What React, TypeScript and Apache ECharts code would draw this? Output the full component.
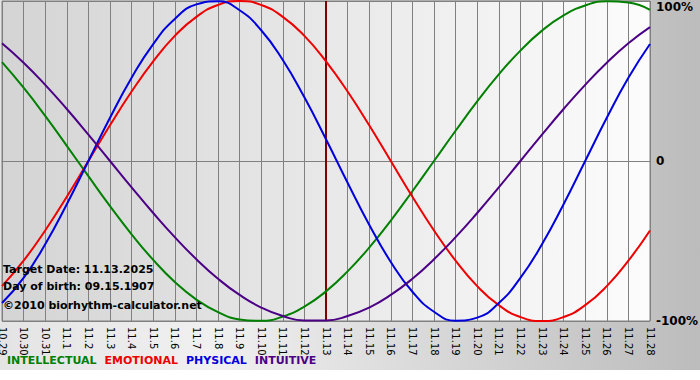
import React, { useEffect, useRef } from "react";
import * as echarts from "echarts";

const dates = [
  "10.29", "10.30", "10.31", "11.1", "11.2", "11.3", "11.4", "11.5", "11.6", "11.7",
  "11.8", "11.9", "11.10", "11.11", "11.12", "11.13", "11.14", "11.15", "11.16", "11.17",
  "11.18", "11.19", "11.20", "11.21", "11.22", "11.23", "11.24", "11.25", "11.26", "11.27", "11.28",
];

const intellectual = [61.8, 45.8, 28.2, 9.5, -9.5, -28.2, -45.8, -61.8, -75.6, -86.6, -94.5, -99.0, -99.9, -97.2, -91.0, -81.5, -69.0, -54.1, -37.2, -18.9, 0, 18.9, 37.2, 54.1, 69.0, 81.5, 91.0, 97.2, 99.9, 99.0, 94.5];
const emotional = [-78.2, -62.3, -43.4, -22.3, 0, 22.3, 43.4, 62.3, 78.2, 90.1, 97.5, 100, 97.5, 90.1, 78.2, 62.3, 43.4, 22.3, 0, -22.3, -43.4, -62.3, -78.2, -90.1, -97.5, -100, -97.5, -90.1, -78.2, -62.3, -43.4];
const physical = [-88.8, -73.1, -52.0, -27.0, 0, 27.0, 52.0, 73.1, 88.8, 97.9, 99.8, 94.2, 81.7, 63.1, 39.8, 13.6, -13.6, -39.8, -63.1, -81.7, -94.2, -99.8, -97.9, -88.8, -73.1, -52.0, -27.0, 0, 27.0, 52.0, 73.1];
const intuitive = [73.6, 61.4, 47.6, 32.5, 16.5, 0, -16.5, -32.5, -47.6, -61.4, -73.6, -83.7, -91.6, -96.9, -99.7, -99.7, -96.9, -91.6, -83.7, -73.6, -61.4, -47.6, -32.5, -16.5, 0, 16.5, 32.5, 47.6, 61.4, 73.6, 83.7];

const targetDate = "11.13";
const infoLines = ["Target Date: 11.13.2025", "Day of birth: 09.15.1907", "\u00a92010 biorhythm-calculator.net"];

const seriesDefs = [
  { name: "INTELLECTUAL", data: intellectual, color: "#008000" },
  { name: "EMOTIONAL", data: emotional, color: "#ee0000" },
  { name: "PHYSICAL", data: physical, color: "#0000dd" },
  { name: "INTUITIVE", data: intuitive, color: "#4b0085" },
];

const FONT = "DejaVu Sans, Verdana, sans-serif";

export default function App() {
  const ref = useRef<HTMLDivElement>(null);
  useEffect(() => {
    if (!ref.current) return;
    const chart = echarts.init(ref.current, null, { renderer: "svg" });
    const option: any = {
      animation: false,
      backgroundColor: "#ffffff",
      textStyle: { fontFamily: FONT },
      graphic: [
        {
          type: "rect",
          z: -10,
          silent: true,
          shape: { x: 0, y: 0, width: 700, height: 370 },
          style: {
            fill: new echarts.graphic.LinearGradient(0, 0, 1, 0, [
              { offset: 0, color: "#e4e4e4" },
              { offset: 0.3, color: "#f0f0f0" },
              { offset: 1, color: "#bcbcbc" },
            ]),
          },
        },
        ...infoLines.map((t, i) => ({
          type: "text",
          left: 3,
          top: 264 + i * 17 + (i === 2 ? 2 : 0),
          z: 100,
          style: { text: t, font: `bold 11px ${FONT}`, fill: "#000" },
        })),
      ],
      legend: {
        left: 2,
        top: 355,
        icon: "none",
        itemWidth: 0,
        itemHeight: 0,
        itemGap: 3,
        padding: 0,
        data: seriesDefs.map((s) => ({
          name: s.name,
          textStyle: { color: s.color, fontWeight: "bold", fontSize: 11, fontFamily: FONT },
        })),
        selectedMode: false,
      },
      grid: {
        left: 2,
        right: 50,
        top: 1,
        bottom: 59,
        outerBoundsMode: "none",
        containLabel: false,
        show: true,
        borderColor: "#808080",
        borderWidth: 1,
        backgroundColor: new echarts.graphic.LinearGradient(0, 0, 1, 0, [
          { offset: 0, color: "#d4d4d4" },
          { offset: 1, color: "#fcfcfc" },
        ]),
      },
      xAxis: {
        type: "category",
        data: dates,
        boundaryGap: false,
        axisLine: { lineStyle: { color: "#808080" } },
        axisTick: { show: true, length: 4, interval: 0, lineStyle: { color: "#808080" } },
        axisLabel: {
          rotate: -90,
          interval: 0,
          fontSize: 10,
          color: "#000",
          margin: 6,
          fontFamily: FONT,
        },
        splitLine: { show: true, interval: 0, lineStyle: { color: "#808080", width: 1 } },
      },
      yAxis: {
        type: "value",
        position: "right",
        min: -100,
        max: 100,
        interval: 100,
        axisLine: { show: false },
        axisTick: { show: false },
        axisLabel: {
          margin: 6,
          fontSize: 12,
          fontWeight: "bold",
          color: "#000",
          fontFamily: FONT,
          verticalAlignMaxLabel: "top",
          formatter: (v: number) => (v === 0 ? "0" : v + "%"),
        },
        splitLine: { show: true, lineStyle: { color: "#808080", width: 1 } },
      },
      series: seriesDefs.map((s, i) => ({
        name: s.name,
        type: "line",
        data: s.data,
        smooth: 0.5,
        showSymbol: false,
        symbol: "none",
        lineStyle: { color: s.color, width: 2 },
        itemStyle: { color: s.color },
        z: 5,
        markLine:
          i === 0
            ? {
                silent: true,
                symbol: "none",
                label: { show: false },
                lineStyle: { color: "#800000", width: 2, type: "solid" },
                data: [{ xAxis: targetDate }],
                z: 3,
              }
            : undefined,
      })),
    };
    chart.setOption(option);
    return () => chart.dispose();
  }, []);
  return (
    <div
      ref={ref}
      style={{ position: "fixed", left: 0, top: 0, width: 700, height: 380 }}
    />
  );
}
